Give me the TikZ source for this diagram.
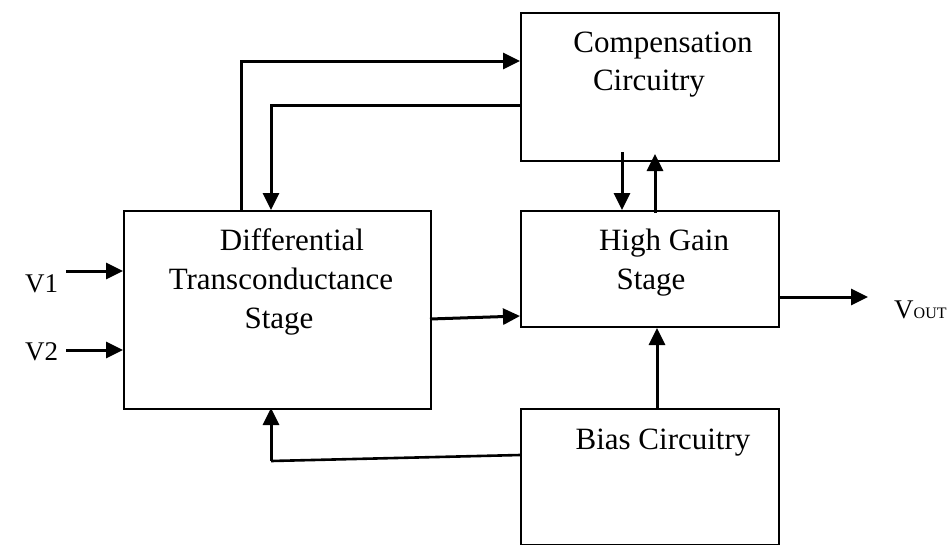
\documentclass[tikz,border=0pt]{standalone}
\usepackage{fontspec}
\setmainfont{Liberation Serif}
\usetikzlibrary{arrows.meta,calc}
\begin{document}
\begin{tikzpicture}[x=1pt,y=-1pt,
  blk/.style={draw,line width=2pt,rectangle,anchor=north west,inner sep=0pt},
  lbl/.style={anchor=base,inner sep=0pt,font=\fontsize{31}{37}\selectfont},
  sml/.style={anchor=base west,inner sep=0pt,font=\fontsize{27}{31}\selectfont},
  arr/.style={line width=3pt,-{Triangle[length=17pt,width=16pt]}},
  wire/.style={line width=2.6pt}]
\useasboundingbox (0,0) rectangle (949,544);
% blocks
\node[blk,minimum width=307pt,minimum height=198pt] (diff) at (123,210) {};
\node[blk,minimum width=258pt,minimum height=148pt] (comp) at (520,12) {};
\node[blk,minimum width=258pt,minimum height=116pt] (hg) at (520,210) {};
\node[blk,minimum width=258pt,minimum height=136pt] (bias) at (520,408) {};
% labels
\node[lbl] (t1) at (292,250) {Differential};
\node[lbl] (t2) at (281,289) {Transconductance};
\node[lbl] (t3) at (279,328) {Stage};
\node[lbl] (t4) at (663,52) {Compensation};
\node[lbl] (t5) at (649,90) {Circuitry};
\node[lbl] (t6) at (664,250) {High Gain};
\node[lbl] (t7) at (651,289) {Stage};
\node[lbl] (t8) at (663,449) {Bias Circuitry};
\node[sml] (v1) at (25,292) {V1};
\node[sml] (v2) at (25,360) {V2};
\node[sml] (vo) at (894,318) {V{\fontsize{16}{18}\selectfont OUT}};
% coordinates
\coordinate (a1) at (241,210);
\coordinate (a2) at (241,61);
\coordinate (b1) at (520,105);
\coordinate (b2) at (271,105);
\coordinate (c1) at (622,152);
\coordinate (c2) at (655,213);
\coordinate (c3) at (655,154);
\coordinate (d1) at (430,319);
\coordinate (d2) at (520,316);
\coordinate (e1) at (778,297);
\coordinate (e2) at (868,297);
\coordinate (f1) at (657,408);
\coordinate (g1) at (520,455);
\coordinate (g2) at (271,461);
\coordinate (g3) at (271,408);
\coordinate (i1) at (66,271);
\coordinate (i2) at (66,350);
% connectors
\draw[arr] (a1) -- (a2) -- (comp.west |- a2);
\draw[arr] (b1) -- (b2) -- (diff.north -| b2);
\draw[arr] (c1) -- (hg.north -| c1);
\draw[arr] (c2) -- (c3);
\draw[arr] (d1) -- (d2);
\draw[arr] (e1) -- (e2);
\draw[arr] (f1) -- (hg.south -| f1);
\draw[wire] (g1) -- (g2);
\draw[arr] (g2) -- (g3);
\draw[arr] (i1) -- (diff.west |- i1);
\draw[arr] (i2) -- (diff.west |- i2);
\end{tikzpicture}
\end{document}
